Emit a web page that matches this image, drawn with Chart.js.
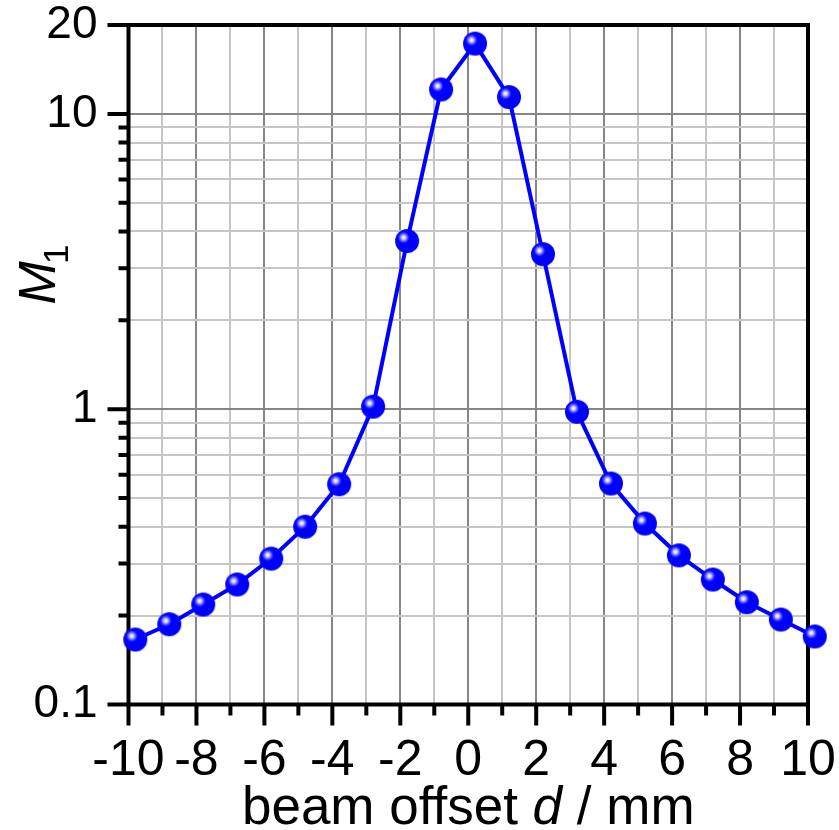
<!DOCTYPE html>
<html>
<head>
  <meta charset="UTF-8">
  <title>M1 vs beam offset</title>
  <script src="https://cdn.jsdelivr.net/npm/chart.js"></script>
  <style>
    body { margin: 0; background: white; }
    #chart { display: block; }
  </style>
</head>
<body>
  <canvas id="chart" width="839" height="830"></canvas>
  <script>
    // beam offset d (mm) and measured M1
    const offsets = [-9.8, -8.8, -7.8, -6.8, -5.8, -4.8, -3.8, -2.8, -1.8, -0.8, 0.2,
                     1.2, 2.2, 3.2, 4.2, 5.2, 6.2, 7.2, 8.2, 9.2, 10.2];
    const m1 = [0.166, 0.187, 0.218, 0.255, 0.312, 0.40, 0.557, 1.02, 3.71, 12.1, 17.3,
                11.4, 3.35, 0.98, 0.56, 0.41, 0.32, 0.265, 0.222, 0.194, 0.170];

    const xTickLabels = [-10, -8, -6, -4, -2, 0, 2, 4, 6, 8, 10];
    const xMinorTicks = [-9, -7, -5, -3, -1, 1, 3, 5, 7, 9];
    const yTickLabels = [0.1, 1, 10, 20];
    const yMinorTicks = [0.2, 0.3, 0.4, 0.5, 0.6, 0.7, 0.8, 0.9, 2, 3, 4, 5, 6, 7, 8, 9];

    const FONT = '"Liberation Sans", Arial, Helvetica, sans-serif';
    const MAJOR_GRID = '#868686';
    const MINOR_GRID = '#c6c6c6';

    // shaded ball used as point marker
    function makeBall(r) {
      const size = r * 2 + 2;
      const c = document.createElement('canvas');
      c.width = size; c.height = size;
      const g = c.getContext('2d');
      const cx = size / 2, cy = size / 2;
      g.fillStyle = '#0000ff';
      g.beginPath(); g.arc(cx, cy, r, 0, Math.PI * 2); g.fill();
      const hl = g.createRadialGradient(cx - 3.5, cy - 3.5, 0, cx - 3.5, cy - 3.5, 6.5);
      hl.addColorStop(0, 'rgba(255,255,255,1)');
      hl.addColorStop(0.3, 'rgba(215,215,255,0.95)');
      hl.addColorStop(0.7, 'rgba(120,120,255,0.5)');
      hl.addColorStop(1, 'rgba(0,0,255,0)');
      g.fillStyle = hl;
      g.beginPath(); g.arc(cx, cy, r, 0, Math.PI * 2); g.fill();
      return c;
    }
    const ball = makeBall(12);

    // keep the plot box where it is, labels may hang over the edges
    function noPadding(s) {
      s.paddingTop = 0; s.paddingBottom = 0;
      s.paddingLeft = 0; s.paddingRight = 0;
    }

    // frame, outward tick marks and axis titles
    const framePlugin = {
      id: 'frame',
      beforeDatasetsDraw(chart) {
        const { ctx, chartArea: a, scales } = chart;
        ctx.save();
        ctx.strokeStyle = '#000';
        ctx.lineWidth = 4;
        ctx.strokeRect(a.left, a.top, a.right - a.left, a.bottom - a.top);
        ctx.beginPath();
        yTickLabels.forEach(v => {
          const y = scales.y.getPixelForValue(v);
          ctx.moveTo(a.left - 21, y); ctx.lineTo(a.left, y);
        });
        yMinorTicks.forEach(v => {
          const y = scales.y.getPixelForValue(v);
          ctx.moveTo(a.left - 10, y); ctx.lineTo(a.left, y);
        });
        xTickLabels.forEach(v => {
          const x = scales.x.getPixelForValue(v);
          ctx.moveTo(x, a.bottom); ctx.lineTo(x, a.bottom + 21);
        });
        xMinorTicks.forEach(v => {
          const x = scales.x.getPixelForValue(v);
          ctx.moveTo(x, a.bottom); ctx.lineTo(x, a.bottom + 11);
        });
        ctx.stroke();
        ctx.restore();
      },
      afterDraw(chart) {
        const { ctx, chartArea: a } = chart;
        ctx.save();
        ctx.fillStyle = '#000';
        ctx.textBaseline = 'alphabetic';

        // x title: beam offset d / mm
        const parts = [
          ['beam offset ', 'normal'],
          ['d', 'italic'],
          [' / mm', 'normal']
        ];
        let total = 0;
        parts.forEach(p => { ctx.font = p[1] + ' 53px ' + FONT; total += ctx.measureText(p[0]).width; });
        let x = (a.left + a.right) / 2 - total / 2;
        parts.forEach(p => {
          ctx.font = p[1] + ' 53px ' + FONT;
          ctx.fillText(p[0], x, 824);
          x += ctx.measureText(p[0]).width;
        });

        // y title: M with subscript 1
        ctx.translate(55, 273);
        ctx.rotate(-Math.PI / 2);
        ctx.font = 'italic 52px ' + FONT;
        const mw = ctx.measureText('M').width;
        ctx.font = '35px ' + FONT;
        const sw = ctx.measureText('1').width;
        const start = -(mw + sw) / 2;
        ctx.font = 'italic 52px ' + FONT;
        ctx.fillText('M', start, 0);
        ctx.font = '35px ' + FONT;
        ctx.fillText('1', start + mw - 3, 13);
        ctx.restore();
      }
    };

    const ctx = document.getElementById('chart').getContext('2d');
    const chart = new Chart(ctx, {
      type: 'line',
      data: {
        datasets: [{
          data: offsets.map((d, i) => ({ x: d, y: m1[i] })),
          borderColor: '#0000ff',
          borderWidth: 4,
          tension: 0,
          pointStyle: ball,
          pointRadius: 12,
          clip: false
        }]
      },
      options: {
        responsive: false,
        animation: false,
        layout: { padding: { top: 25, right: 31, left: 0, bottom: 0 } },
        plugins: { legend: { display: false }, tooltip: { enabled: false } },
        scales: {
          x: {
            type: 'linear',
            min: -10,
            max: 10,
            afterFit: s => { s.height = 125.5; noPadding(s); },
            afterBuildTicks: s => {
              s.ticks = xTickLabels.concat(xMinorTicks).sort((p, q) => p - q).map(v => ({ value: v }));
            },
            border: { display: false },
            grid: {
              drawTicks: false,
              lineWidth: 2,
              color: c => (xTickLabels.includes(c.tick.value) ? MAJOR_GRID : MINOR_GRID)
            },
            ticks: {
              autoSkip: false,
              maxRotation: 0,
              padding: 27,
              color: '#000',
              font: { family: FONT, size: 50 },
              callback: v => (xTickLabels.includes(v) ? String(v) : '')
            }
          },
          y: {
            type: 'logarithmic',
            min: 0.1,
            max: 20,
            afterFit: s => { s.width = 128.5; noPadding(s); },
            afterBuildTicks: s => {
              s.ticks = yTickLabels.concat(yMinorTicks).sort((p, q) => p - q).map(v => ({ value: v }));
            },
            border: { display: false },
            grid: {
              drawTicks: false,
              lineWidth: 2,
              color: c => {
                const v = c.tick.value;
                if (v === 20) return 'rgba(0,0,0,0)';
                return yTickLabels.includes(v) ? MAJOR_GRID : MINOR_GRID;
              }
            },
            ticks: {
              autoSkip: false,
              padding: 31,
              color: '#000',
              font: { family: FONT, size: 46 },
              callback: v => (yTickLabels.includes(v) ? String(v) : '')
            }
          }
        }
      },
      plugins: [framePlugin]
    });
  </script>
</body>
</html>
